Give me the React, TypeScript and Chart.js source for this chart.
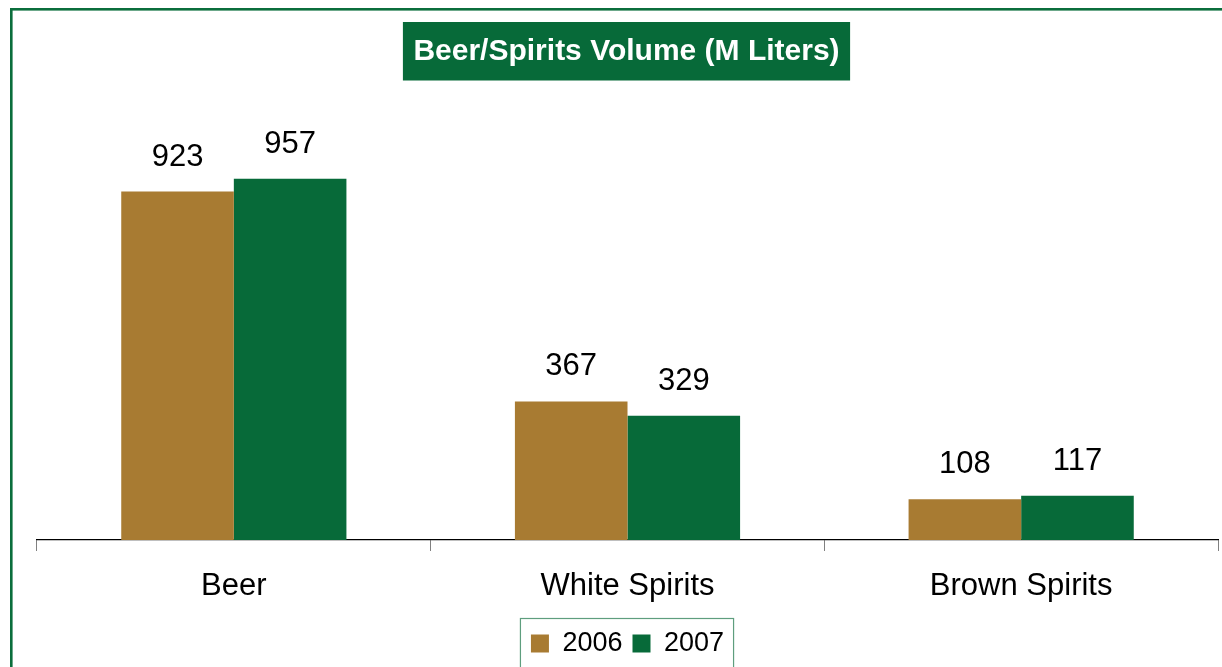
import React, { useEffect, useRef } from "react";
import { Chart, registerables } from "chart.js";

Chart.register(...registerables);

const categories = ["Beer", "White Spirits", "Brown Spirits"];
const seriesNames = ["2006", "2007"];
const values2006 = [923, 367, 108];
const values2007 = [957, 329, 117];
const titleText = "Beer/Spirits Volume (M Liters)";

const GOLD = "#A87B32";
const GREEN = "#076A39";
const FONT = "'Liberation Sans', Arial, sans-serif";

const decorPlugin = {
  id: "decor",
  beforeDraw(chart: any) {
    const ctx = chart.ctx;
    ctx.save();
    ctx.fillStyle = "#fff";
    ctx.fillRect(0, 0, chart.width, chart.height);
    ctx.restore();
  },
  afterDraw(chart: any) {
    const ctx = chart.ctx;
    ctx.save();
    // outer frame
    ctx.strokeStyle = "#0B6E3C";
    ctx.lineWidth = 2.6;
    ctx.strokeRect(11.3, 9.3, 3000, 3000);

    // title box
    ctx.font = `bold 30px ${FONT}`;
    const tw = ctx.measureText(titleText).width;
    const cx = (chart.chartArea.left + chart.chartArea.right) / 2 - 1;
    const bw = tw + 21;
    ctx.fillStyle = GREEN;
    ctx.fillRect(cx - bw / 2, 22, bw, 58.5);
    ctx.fillStyle = "#fff";
    ctx.textAlign = "center";
    ctx.textBaseline = "middle";
    ctx.fillText(titleText, cx, 51.5);

    // value labels
    ctx.font = `31px ${FONT}`;
    ctx.fillStyle = "#000";
    ctx.textBaseline = "alphabetic";
    chart.data.datasets.forEach((ds: any, di: number) => {
      const meta = chart.getDatasetMeta(di);
      meta.data.forEach((bar: any, i: number) => {
        ctx.fillText(String(ds.data[i]), bar.x, bar.y - 26);
      });
    });

    // legend border
    const lg = chart.legend;
    if (lg && lg.legendHitBoxes && lg.legendHitBoxes.length) {
      const boxes = lg.legendHitBoxes;
      const minX = Math.min(...boxes.map((b: any) => b.left));
      const maxX = Math.max(...boxes.map((b: any) => b.left + b.width));
      ctx.strokeStyle = "#5E9E7E";
      ctx.lineWidth = 1.2;
      ctx.strokeRect(minX - 10.5, 618.5, maxX - minX + 20, 200);
    }
    ctx.restore();
  },
};

export default function App() {
  const ref = useRef<HTMLCanvasElement | null>(null);
  useEffect(() => {
    if (!ref.current) return;
    const chart = new Chart(ref.current, {
      type: "bar",
      data: {
        labels: categories,
        datasets: [
          {
            label: seriesNames[0],
            data: values2006,
            backgroundColor: GOLD,
            borderWidth: 0,
            categoryPercentage: 0.572,
            barPercentage: 1.0,
          },
          {
            label: seriesNames[1],
            data: values2007,
            backgroundColor: GREEN,
            borderWidth: 0,
            categoryPercentage: 0.572,
            barPercentage: 1.0,
          },
        ],
      },
      options: {
        responsive: false,
        animation: false,
        devicePixelRatio: 1,
        layout: { padding: { top: 87, left: 37, right: 4, bottom: 0 } },
        plugins: {
          title: { display: false },
          tooltip: { enabled: false },
          legend: {
            display: true,
            position: "bottom",
            labels: {
              boxWidth: 18,
              boxHeight: 18,
              padding: 10,
              color: "#000",
              font: { family: FONT, size: 27 },
            },
          },
        },
        scales: {
          x: {
            grid: {
              display: true,
              drawOnChartArea: false,
              drawTicks: true,
              tickLength: 11,
              color: "#808080",
              lineWidth: 1,
              offset: true,
            },
            border: { display: true, color: "#000", width: 1.2 },
            ticks: {
              color: "#000",
              padding: 17,
              font: { family: FONT, size: 31 },
              maxRotation: 0,
            },
            afterFit: (scale: any) => {
              scale.height -= 2.2;
            },
          },
          y: {
            display: false,
            min: 0,
            max: 1200,
          },
        },
      },
      plugins: [decorPlugin],
    });
    return () => chart.destroy();
  }, []);
  return (
    <canvas
      ref={ref}
      width={1222}
      height={667}
      style={{ position: "fixed", left: 0, top: 0, width: 1222, height: 667 }}
    />
  );
}
